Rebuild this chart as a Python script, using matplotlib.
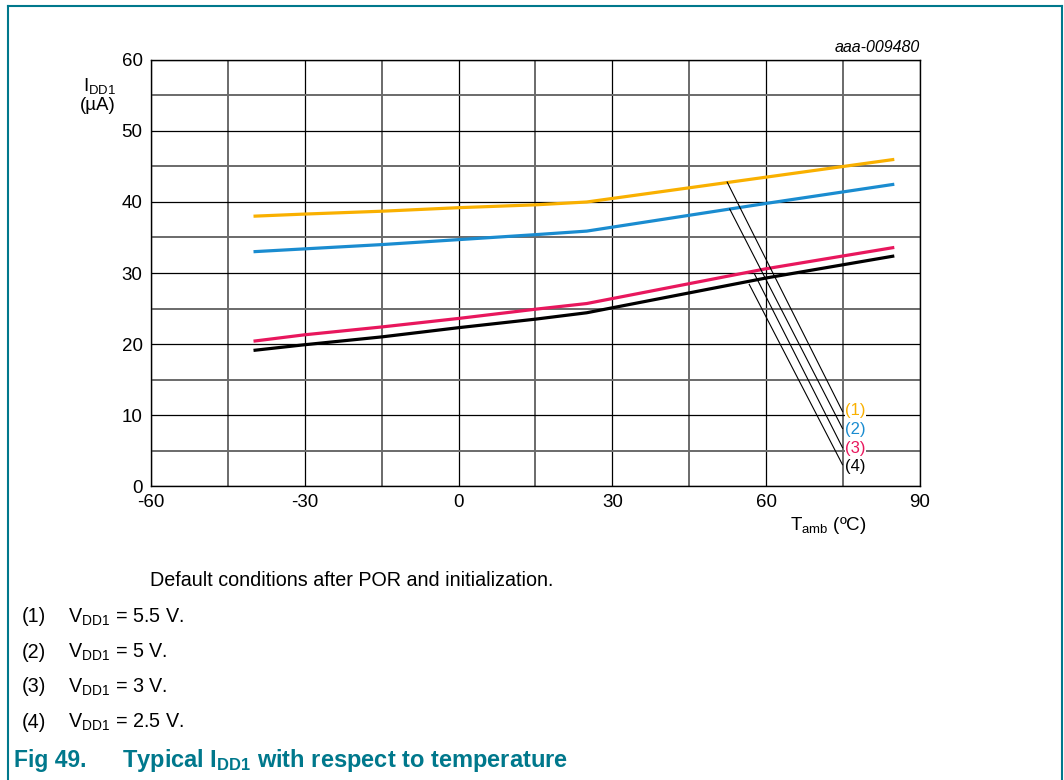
import matplotlib
matplotlib.use('Agg')
import matplotlib.pyplot as plt
from matplotlib.lines import Line2D

plt.rcParams['font.family'] = ['Liberation Sans', 'DejaVu Sans']
plt.rcParams['mathtext.fontset'] = 'custom'
plt.rcParams['mathtext.rm'] = 'Liberation Sans'
plt.rcParams['mathtext.it'] = 'Liberation Sans:italic'
plt.rcParams['mathtext.bf'] = 'Liberation Sans:bold'
plt.rcParams['axes.unicode_minus'] = False

# 数据 (读自参考图)
temp = [-40, -30, -15, 0, 15, 25, 60, 85]
idd_55 = [38.0, 38.3, 38.7, 39.2, 39.6, 40.0, 43.5, 46.0]
idd_5 = [33.0, 33.4, 34.0, 34.7, 35.4, 35.9, 39.8, 42.5]
idd_3 = [20.4, 21.3, 22.4, 23.6, 24.9, 25.7, 30.6, 33.6]
idd_25 = [19.1, 19.9, 21.0, 22.3, 23.5, 24.4, 29.3, 32.4]

labels = ['(1)', '(2)', '(3)', '(4)']
colors = ['#F9B000', '#1A8CD0', '#E8175D', '#000000']
# 引线: 曲线上的起点 -> 标签位置
lead_start = [(52.4, 42.8), (52.9, 39.0), (57.7, 29.9), (56.7, 28.4)]
lead_end = [(74.9, 10.5), (74.9, 8.1), (74.9, 5.4), (74.9, 3.0)]
label_y = [10.7, 8.0, 5.3, 2.8]

notes = ['5.5 V.', '5 V.', '3 V.', '2.5 V.']

teal = '#00788C'

fig = plt.figure(figsize=(10.64, 7.8), dpi=100)
ax = fig.add_axes([0.1419, 0.3769, 0.7227, 0.5462])

for y, c in zip([idd_55, idd_5, idd_3, idd_25], colors):
    ax.plot(temp, y, color=c, lw=2.3, solid_capstyle='butt', zorder=3)

for (x0, y0), (x1, y1) in zip(lead_start, lead_end):
    ax.plot([x0, x1], [y0, y1], color='black', lw=0.8, zorder=4)
for lab, ly, c in zip(labels, label_y, colors):
    ax.text(75.4, ly, lab, color=c, fontsize=12, va='center', ha='left',
            zorder=5, bbox=dict(facecolor='white', edgecolor='none', pad=0.3))

ax.set_xlim(-60, 90)
ax.set_ylim(0, 60)
ax.set_xticks(range(-60, 91, 30))
ax.set_yticks(range(0, 61, 10))
ax.set_xticks(range(-45, 90, 30), minor=True)
ax.set_yticks(range(5, 60, 10), minor=True)
ax.grid(which='major', color='black', lw=0.9)
ax.grid(which='minor', color='#6a6a6a', lw=1.4)
ax.tick_params(which='both', length=0, labelsize=13.5, pad=6)
for s in ax.spines.values():
    s.set_linewidth(1.0)
ax.set_axisbelow(True)

fig.text(116 / 1064, 1 - 95 / 780, '$\\mathregular{I_{DD1}}$\n(µA)', fontsize=13.5,
         ha='right', va='center', linespacing=1.15)
fig.text(920 / 1064, 1 - 47 / 780, 'aaa-009480', fontsize=11.5, style='italic',
         ha='right', va='center')
fig.text(828 / 1064, 1 - 525 / 780, '$\\mathregular{T_{amb}}$ (ºC)', fontsize=13.5,
         ha='center', va='center')

fig.text(150 / 1064, 1 - 581 / 780, 'Default conditions after POR and initialization.',
         fontsize=14.2, ha='left', va='center')
for i, n in enumerate(notes):
    yy = 1 - (617 + 35 * i) / 780
    fig.text(22 / 1064, yy, labels[i], fontsize=14.2, ha='left', va='center')
    fig.text(68 / 1064, yy, '$\\mathregular{V_{DD1}}$ = ' + n, fontsize=14.2,
             ha='left', va='center')

fig.text(14 / 1064, 1 - 761 / 780, 'Fig 49.', fontsize=16.5, fontweight='bold',
         color=teal, ha='left', va='center')
fig.text(122 / 1064, 1 - 761 / 780,
         'Typical $\\mathbf{I_{DD1}}$ with respect to temperature',
         fontsize=17, fontweight='bold', color=teal, ha='left', va='center')

# 外框
fig.add_artist(Line2D([8 / 1064, 8 / 1064], [0, 1 - 6 / 780], color=teal, lw=1.5))
fig.add_artist(Line2D([8 / 1064, 1062 / 1064], [1 - 6 / 780, 1 - 6 / 780], color=teal, lw=1.5))
fig.add_artist(Line2D([1062 / 1064, 1062 / 1064], [0, 1 - 6 / 780], color=teal, lw=1.5))

fig.savefig('out.png', dpi=100)
